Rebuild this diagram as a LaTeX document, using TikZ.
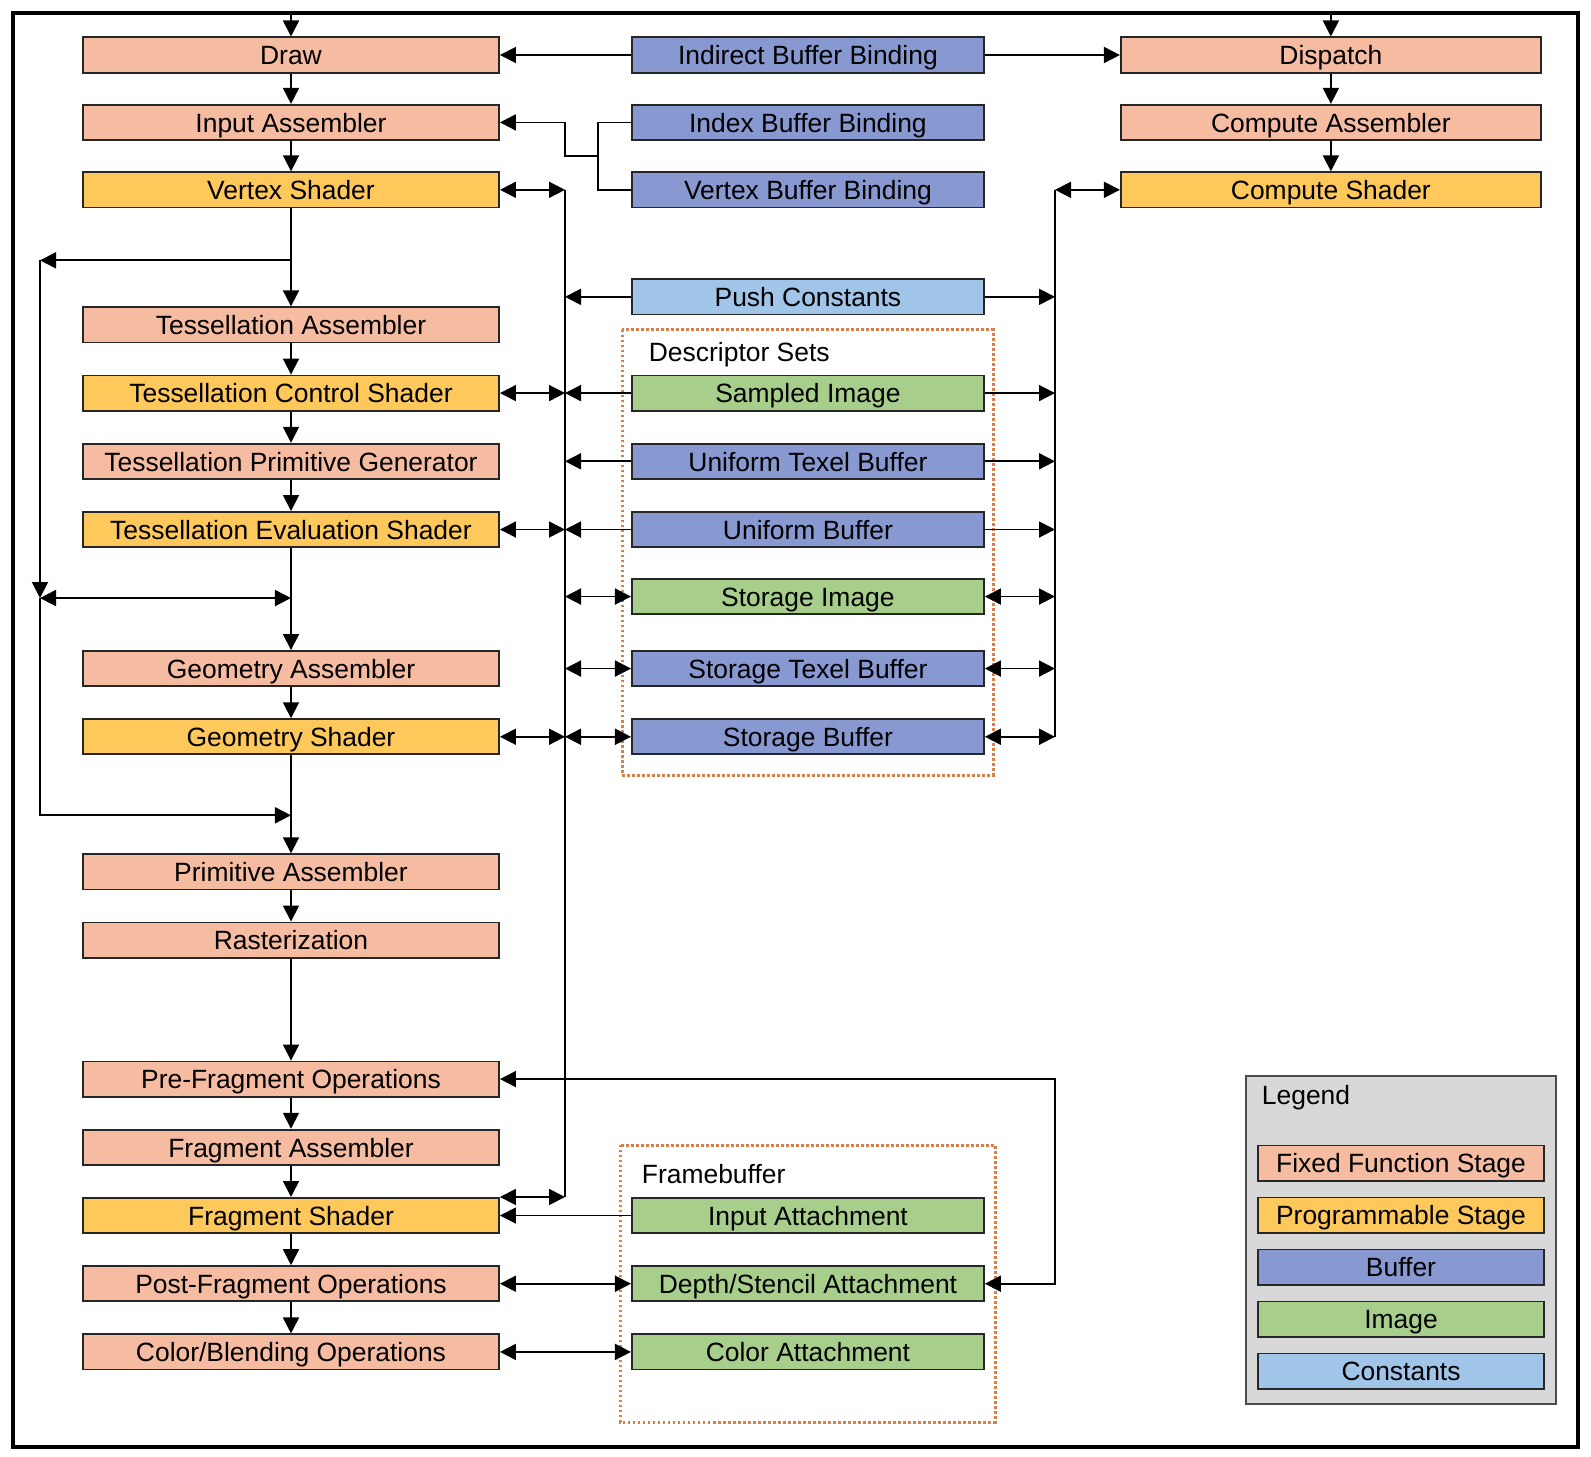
\documentclass[tikz,border=0pt]{standalone}
\usepackage{fontspec}
\setmainfont{Liberation Sans}
\usepackage{xcolor}
\usepackage{tikz}
\usetikzlibrary{arrows.meta,positioning,calc}

\definecolor{fixcol}{RGB}{246,188,162}
\definecolor{progcol}{RGB}{254,200,90}
\definecolor{bufcol}{RGB}{136,152,208}
\definecolor{imgcol}{RGB}{167,207,139}
\definecolor{cstcol}{RGB}{160,197,233}
\definecolor{dotcol}{RGB}{218,128,70}
\definecolor{legcol}{RGB}{216,216,216}

\begin{document}
\begin{tikzpicture}[x=0.025cm,y=-0.025cm,>={Triangle[length=4mm,width=4mm]},
			line width=0.45mm,
			stage/.style = {draw=black!85, shape=rectangle, minimum height=0.88cm, inner sep=0pt,
				text height=14pt, text depth=0pt, align=center, font=\fontsize{18.8}{21}\selectfont},
			fixblock/.style = {stage, fill=fixcol},
			progblock/.style = {stage, fill=progcol},
			bufblock/.style = {stage, fill=bufcol},
			imgblock/.style = {stage, fill=imgcol},
			cstblock/.style = {stage, fill=cstcol},
			lcol/.style = {minimum width=10.4cm},
			mcol/.style = {minimum width=8.8cm},
			rcol/.style = {minimum width=10.5cm},
			gcol/.style = {minimum width=7.15cm},
			dotbox/.style = {draw=dotcol, line width=0.75mm, dash pattern=on 0.6mm off 0.65mm},
			grouplabel/.style = {anchor=west, inner sep=0pt, font=\fontsize{18.8}{21}\selectfont}
			]
			\useasboundingbox (0,0) rectangle (1591,1457);
			\fill[white] (0,0) rectangle (1591,1457);
			% graphics pipeline
			\node [fixblock, lcol] (draw) at (291,55) {Draw};
			\node [fixblock, lcol, below=0.76cm of draw] (input) {Input Assembler};
			\node [progblock, lcol, below=0.76cm of input] (vertex) {Vertex Shader};
			\node [fixblock, lcol, below=2.45cm of vertex] (tessasm) {Tessellation Assembler};
			\node [progblock, lcol, below=0.78cm of tessasm] (tcs) {Tessellation Control Shader};
			\node [fixblock, lcol, below=0.78cm of tcs] (tpg) {Tessellation Primitive Generator};
			\node [progblock, lcol, below=0.78cm of tpg] (tes) {Tessellation Evaluation Shader};
			\node [fixblock, lcol, below=2.55cm of tes] (geoasm) {Geometry Assembler};
			\node [progblock, lcol, below=0.78cm of geoasm] (geosh) {Geometry Shader};
			\node [fixblock, lcol, below=2.45cm of geosh] (primasm) {Primitive Assembler};
			\node [fixblock, lcol, below=0.78cm of primasm] (raster) {Rasterization};
			\node [fixblock, lcol, below=2.55cm of raster] (prefrag) {Pre-Fragment Operations};
			\node [fixblock, lcol, below=0.78cm of prefrag] (fragasm) {Fragment Assembler};
			\node [progblock, lcol, below=0.78cm of fragasm] (fragsh) {Fragment Shader};
			\node [fixblock, lcol, below=0.78cm of fragsh] (postfrag) {Post-Fragment Operations};
			\node [fixblock, lcol, below=0.78cm of postfrag] (blend) {Color/Blending Operations};
			% resources
			\node [bufblock, mcol, right=3.275cm of draw] (indirect) {Indirect Buffer Binding};
			\node [bufblock, mcol, right=3.275cm of input] (index) {Index Buffer Binding};
			\node [bufblock, mcol, right=3.275cm of vertex] (vbb) {Vertex Buffer Binding};
			\node [cstblock, mcol, below=1.75cm of vbb] (push) {Push Constants};
			\node [imgblock, mcol, right=3.275cm of tcs] (sampled) {Sampled Image};
			\node [bufblock, mcol, right=3.275cm of tpg] (utb) {Uniform Texel Buffer};
			\node [bufblock, mcol, right=3.275cm of tes] (ubuf) {Uniform Buffer};
			\node [imgblock, mcol, below=0.75cm of ubuf] (simg) {Storage Image};
			\node [bufblock, mcol, right=3.275cm of geoasm] (stb) {Storage Texel Buffer};
			\node [bufblock, mcol, right=3.275cm of geosh] (sbuf) {Storage Buffer};
			\node [imgblock, mcol, right=3.275cm of fragsh] (inatt) {Input Attachment};
			\node [imgblock, mcol, right=3.275cm of postfrag] (depth) {Depth/Stencil Attachment};
			\node [imgblock, mcol, right=3.275cm of blend] (colatt) {Color Attachment};
			\node [grouplabel] (dslabel) at (648,355) {Descriptor Sets};
			\node [grouplabel] (fblabel) at (641,1174) {Framebuffer};
			\draw [dotbox] (622,330) rectangle (993,775);
			\draw [dotbox] (620,1145) rectangle (995,1422);
			% compute pipeline
			\node [fixblock, rcol, right=3.375cm of indirect] (dispatch) {Dispatch};
			\node [fixblock, rcol, right=3.375cm of index] (compasm) {Compute Assembler};
			\node [progblock, rcol, right=3.375cm of vbb] (compsh) {Compute Shader};
			% legend
			\draw [fill=legcol, draw=black!70] (1246,1076) rectangle (1556,1404);
			\node [grouplabel] (leglabel) at (1261,1098) {Legend};
			\node [fixblock, gcol] (lgfix) at (1401,1163) {Fixed Function Stage};
			\node [progblock, gcol, below=0.375cm of lgfix] (lgprog) {Programmable Stage};
			\node [bufblock, gcol, below=0.375cm of lgprog] (lgbuf) {Buffer};
			\node [imgblock, gcol, below=0.375cm of lgbuf] (lgimg) {Image};
			\node [cstblock, gcol, below=0.375cm of lgimg] (lgcst) {Constants};
			% helper coordinates
			\coordinate (frametop) at (0,13);
			\coordinate (busl) at (565,0);
			\coordinate (busr) at (1055,0);
			\coordinate (loopx) at (40,0);
			\coordinate [below=1.3cm of vertex] (skipa);
			\coordinate [below=1.25cm of tes] (skipb);
			\coordinate [below=1.5cm of geosh] (skipc);
			\coordinate (bind) at ($(index.west)!0.5!(vbb.west)+(-33,0)$);
			% stage chain
			\draw[->] (draw.north |- frametop) -- (draw);
			\draw[->] (draw) -- (input);
			\draw[->] (input) -- (vertex);
			\draw[->] (vertex) -- (tessasm);
			\draw[->] (tessasm) -- (tcs);
			\draw[->] (tcs) -- (tpg);
			\draw[->] (tpg) -- (tes);
			\draw[->] (tes) -- (geoasm);
			\draw[->] (geoasm) -- (geosh);
			\draw[->] (geosh) -- (primasm);
			\draw[->] (primasm) -- (raster);
			\draw[->] (raster) -- (prefrag);
			\draw[->] (prefrag) -- (fragasm);
			\draw[->] (fragasm) -- (fragsh);
			\draw[->] (fragsh) -- (postfrag);
			\draw[->] (postfrag) -- (blend);
			\draw[->] (dispatch.north |- frametop) -- (dispatch);
			\draw[->] (dispatch) -- (compasm);
			\draw[->] (compasm) -- (compsh);
			% skipping tessellation / geometry
			\draw[->] (skipa) -- (skipa -| loopx);
			\draw[->] (skipa -| loopx) -- (skipb -| loopx);
			\draw[<->] (skipb -| loopx) -- (skipb);
			\draw[->] (skipb -| loopx) -- (skipc -| loopx) -- (skipc);
			% bindings
			\draw[->] (indirect) -- (draw);
			\draw[->] (indirect) -- (dispatch);
			\draw (index) -| (bind) |- (vbb);
			\draw[->] (bind) -- (bind -| busl) |- (input);
			% shader bus
			\draw (vertex -| busl) -- (fragsh.north east -| busl);
			\draw[<->] (vertex) -- (vertex -| busl);
			\draw[<->] (tcs) -- (tcs -| busl);
			\draw[<->] (tes) -- (tes -| busl);
			\draw[<->] (geosh) -- (geosh -| busl);
			\draw[<->] (fragsh.north east) -- (fragsh.north east -| busl);
			\draw[<->] (compsh -| busr) -- (compsh);
			\draw (compsh -| busr) -- (sbuf -| busr);
			\draw[->] (push) -- (push -| busl);
			\draw[->] (push) -- (push -| busr);
			\draw[->] (sampled) -- (sampled -| busl);
			\draw[->] (sampled) -- (sampled -| busr);
			\draw[->] (utb) -- (utb -| busl);
			\draw[->] (utb) -- (utb -| busr);
			\draw[->] (ubuf) -- (ubuf -| busl);
			\draw[->] (ubuf) -- (ubuf -| busr);
			\draw[<->] (simg -| busl) -- (simg);
			\draw[<->] (simg) -- (simg -| busr);
			\draw[<->] (stb -| busl) -- (stb);
			\draw[<->] (stb) -- (stb -| busr);
			\draw[<->] (sbuf -| busl) -- (sbuf);
			\draw[<->] (sbuf) -- (sbuf -| busr);
			% attachments
			\draw[->] (inatt) -- (fragsh);
			\draw[<->] (postfrag) -- (depth);
			\draw[<->] (blend) -- (colatt);
			\draw[<->] (prefrag) -- (prefrag -| busr) |- (depth);
			% frame
			\draw[line width=0.9mm] (13,13) rectangle (1578,1447);
		\end{tikzpicture}
\end{document}
